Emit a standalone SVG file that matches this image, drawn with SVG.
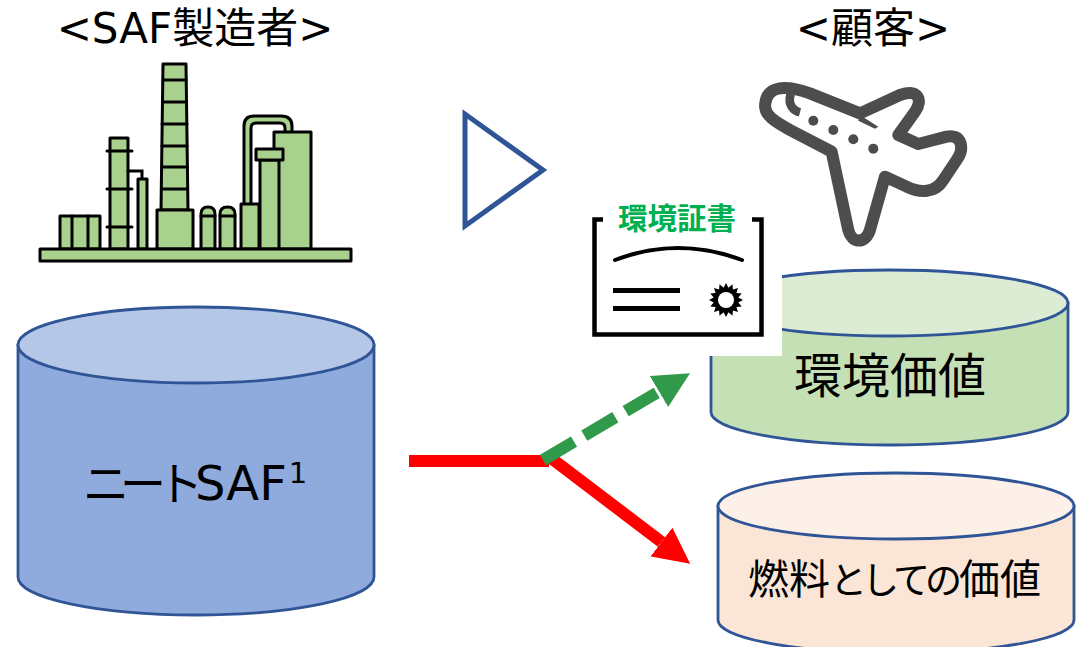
<svg xmlns="http://www.w3.org/2000/svg" width="1088" height="647" viewBox="0 0 1088 647">
<style>
text{font-family:"DejaVu Sans","Noto Sans CJK JP",sans-serif;fill:#000}
.m{text-anchor:middle}
.f{fill:#a9d18e;stroke:#000;stroke-width:3;stroke-linejoin:round}
.l{fill:none;stroke:#000;stroke-width:3;stroke-linecap:round}
.c{stroke:#2f5597;stroke-width:2.800}
.cjk{font-family:"Noto Sans CJK JP",sans-serif}
</style>
<defs>
<marker id="hr" viewBox="0 0 10 10" refX="0" refY="5" markerWidth="3" markerHeight="3" orient="auto"><path d="M0 0L10 5L0 10z" fill="#f00"/></marker>
<marker id="hg" viewBox="0 0 10 10" refX="0" refY="5" markerWidth="3" markerHeight="3" orient="auto"><path d="M0 0L10 5L0 10z" fill="#319a4a"/></marker>
</defs>
<rect width="1088" height="647" fill="#fff"/>
<g id="title-left"><text class="m" x="195" y="43" font-size="42">&lt;SAF製造者&gt;</text></g>
<g id="title-right"><text class="m" x="873" y="43" font-size="42">&lt;顧客&gt;</text></g>
<g id="plant">
<path class="f" d="M244 205V126Q244 116 254 116H281Q292 116 292 126V133H285V128Q285 123 280 123H256Q251 123 251 128V205Z"/>
<rect class="f" x="274" y="132" width="37" height="117"/>
<rect class="f" x="260" y="160" width="19" height="89"/>
<rect class="f" x="256" y="149" width="27" height="11"/>
<rect class="f" x="241" y="204" width="18" height="45"/>
<path class="f" d="M163 64H186L188 210H161Z"/>
<path class="l" d="M163 80H186M163 102H186M162 124H187M162 146H187M162 167H187M162 189H187"/>
<rect class="f" x="157" y="210" width="36" height="39"/>
<rect class="f" x="60" y="216" width="40" height="33"/>
<path class="l" d="M72 216V249M88 216V249"/>
<rect class="f" x="110" y="138" width="18" height="111"/>
<path class="l" d="M107 151H132M107 189H132M107 227H132"/>
<path class="l" d="M128 171H142V179"/>
<rect class="f" x="138" y="179" width="9" height="70"/>
<path class="f" d="M201 249V214Q201 207 208 207Q215 207 215 214V249Z"/>
<path class="f" d="M220 249V214Q220 207 227.500 207Q235 207 235 214V249Z"/>
<path class="l" d="M201 216H215M220 216H235"/>
<rect class="f" x="40" y="249" width="311" height="12"/>
</g>
<g id="triangle"><path d="M465 114V226L543 170Z" fill="#fff" stroke="#2f5597" stroke-width="5"/></g>
<g id="plane"><g transform="translate(580 70) scale(.3333)">
<path fill="none" stroke="#4d4d4d" stroke-width="36" stroke-linejoin="round" d="M556 100C562 45 620 45 690 70L840 130L960 75C1015 55 1030 90 1005 125L955 195L1015 222L1100 200C1145 190 1155 235 1130 270L1090 330C1065 370 1020 370 980 350L915 320L870 480C855 525 815 520 805 480L755 245L630 180C585 155 550 135 556 100Z"/>
<path fill="none" stroke="#4d4d4d" stroke-width="26" d="M632 72C622 105 640 122 660 127"/>
<path fill="#4d4d4d" d="M840 135L895 170L885 176L835 152Z"/>
<circle cx="700" cy="152" r="15" fill="#4d4d4d"/><circle cx="760" cy="180" r="15" fill="#4d4d4d"/><circle cx="820" cy="208" r="15" fill="#4d4d4d"/><circle cx="880" cy="236" r="15" fill="#4d4d4d"/>
</g></g>
<g id="neat-saf">
<path class="c" fill="#8faadc" d="M18 345V577A178 38 0 0 0 374 577V345Z"/>
<ellipse class="c" cx="196" cy="345" rx="178" ry="38" fill="#b4c7e7"/>
<text x="83" y="500" font-size="48"><tspan class="cjk" font-size="46" letter-spacing="-9">ニート</tspan><tspan dx="1">SAF</tspan><tspan dx="2" dy="-17" font-size="29">1</tspan></text>
</g>
<g id="env-value">
<path class="c" fill="#c5e0b4" d="M711 303V412A178.500 33 0 0 0 1068 412V303Z"/>
<ellipse class="c" cx="889.500" cy="303" rx="178.500" ry="33" fill="#dcebd3"/>
<text class="m cjk" x="890" y="393" font-size="48">環境価値</text>
</g>
<g id="fuel-value">
<path class="c" fill="#fbe5d6" d="M718 506V620A178 33 0 0 0 1074 620V506Z"/>
<ellipse class="c" cx="896" cy="506" rx="178" ry="33" fill="#fdf0e9"/>
<text class="cjk" x="748" y="594" font-size="41">燃料<tspan font-size="37" letter-spacing="-5">としての</tspan><tspan dx="2">価値</tspan></text>
</g>
<g id="certificate">
<rect x="580" y="205" width="202" height="151" fill="#fff"/>
<path d="M603 219.500H594.500V334.500H761.500V219.500H752" fill="none" stroke="#000" stroke-width="4.500"/>
<path d="M615 260Q678 236 742 260" fill="none" stroke="#000" stroke-width="4" stroke-linecap="round"/>
<path d="M613 290.500H680M613 308.500H680" stroke="#000" stroke-width="5" fill="none"/>
<g transform="translate(726 300)"><path d="M17 0L12.300 2.400 15.700 6.500 10.400 6.900 12 12 6.900 10.400 6.500 15.700 2.400 12.300 0 17-2.400 12.300-6.500 15.700-6.900 10.400-12 12-10.400 6.900-15.700 6.500-12.300 2.400-17 0-12.300-2.400-15.700-6.500-10.400-6.900-12-12-6.900-10.400-6.500-15.700-2.400-12.300 0-17 2.400-12.300 6.500-15.700 6.900-10.400 12-12 10.400-6.900 15.700-6.500 12.300-2.400Z"/><circle r="8" fill="#fff"/></g>
<text class="m cjk" x="677" y="229" font-size="29.500" font-weight="700" style="fill:#00b050">環境証書</text>
</g>
<g id="connectors">
<path d="M409 461H549" fill="none" stroke="#f00" stroke-width="12"/>
<path d="M547 455L661.500 542" fill="none" stroke="#f00" stroke-width="12" marker-end="url(#hr)"/>
<path d="M543 460L659 391.500" fill="none" stroke="#319a4a" stroke-width="12" stroke-dasharray="36 12" marker-end="url(#hg)"/>
</g>
</svg>
